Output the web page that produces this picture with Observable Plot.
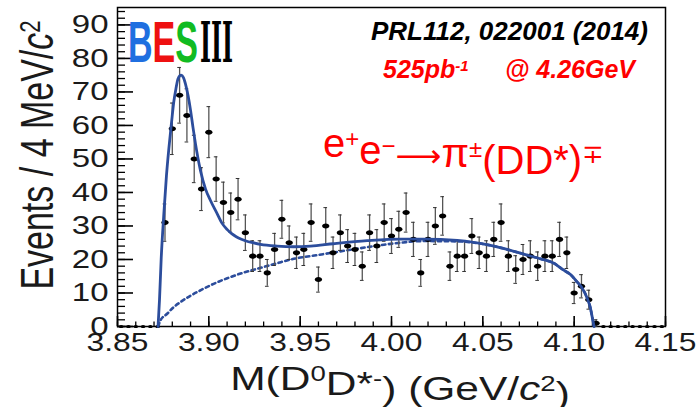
<!DOCTYPE html>
<html><head><meta charset="utf-8">
<script src="https://cdn.jsdelivr.net/npm/d3@7"></script>
<script src="https://cdn.jsdelivr.net/npm/@observablehq/plot@0.6"></script>
<style>
html,body{margin:0;padding:0;background:#fff;}
#chart{position:relative;width:699px;height:407px;overflow:hidden;}
</style></head><body><div id="chart"></div>
<script>
// ---- data ----
const binLow = 3.85;          // GeV, lower edge of the first bin
const binWidth = 0.004;       // 4 MeV bins
const counts = [0,0,0,0,0,0,
  31,59,69,63,50,41,58,44,37,34,
  38,28,21,21,16,23,32,25,22,23,
  31,14,30,22,28,24,23,18,28,24,
  31,27,29,34,26,16,26,30,33,18,
  21,21,27,22,21,26,31,21,17,20,
  21,18,21,21,26,22,10,12,8,1,
  0,0,0,0,0,0,0,0,0];

// total fit curve (solid)
const fitMass  = [3.8722,3.8730,3.8739,3.8753,3.8768,3.8781,3.8796,3.8808,3.8820,3.8832,3.8848,3.8861,3.8872,3.8886,3.8900,3.8913,3.8927,3.8954,3.8982,3.9009,3.9046,3.9070,3.9101,3.9125,3.9150,3.9175,3.9200,3.9240,3.9283,3.9374,3.9465,3.9557,3.9682,3.9867,4.0049,4.0177,4.0360,4.0542,4.0633,4.0724,4.0816,4.0889,4.0943,4.0980,4.1013,4.1040,4.1071,4.1089,4.1100,4.1109];
const fitTotal = [0,8,20,33,45,53,61,67,71,74,75,74.3,72.4,69,64.5,59.5,54.5,46.6,41,37.6,33.6,31.0,28.9,27.7,26.8,26.1,25.6,25.0,24.5,24.0,23.8,24.0,24.7,25.6,26.1,26.1,25.7,24.2,23.0,21.6,20.2,18.9,16.8,15.5,13.5,11.8,8.5,5.5,2.5,0];

// background curve (dotted)
const bkgMass  = [3.8722,3.8735,3.8772,3.8808,3.8845,3.8900,3.8954,3.9009,3.9101,3.9191,3.9283,3.9374,3.9465,3.9593,3.9776,3.9958,4.0049,4.0177,4.0360,4.0542,4.0633,4.0724,4.0816,4.0889,4.0943,4.0980,4.1013,4.1040,4.1071,4.1089,4.1100,4.1109];
const bkgValue = [0,1.8,3.8,5.8,7.3,9.2,10.8,12.3,14.4,16.1,17.5,18.9,20.2,21.3,22.9,24.4,25.0,25.5,25.4,24.2,23.0,21.6,20.2,18.9,16.8,15.5,13.5,11.8,8.5,5.5,2.5,0];

// axes
const xMajorTicks = [3.85,3.90,3.95,4.00,4.05,4.10,4.15];
const xTickLabels = ["3.85","3.90","3.95","4.00","4.05","4.10","4.15"];
const yMajorTicks = [0,10,20,30,40,50,60,70,80,90];
const yTickLabels = ["0","10","20","30","40","50","60","70","80","90"];
const xMinorTicks = d3.range(0, 31).map(i => +(3.85 + i * 0.01).toFixed(2));
const yMinorTicks = d3.range(0, 95, 2);

// ---- build tables ----
const points = counts.map((n, i) => {
  const c = binLow + (i + 0.5) * binWidth;
  const e = Math.sqrt(n);
  return {c, n, lo: n - e, hi: n + e, cl: c - 0.001, cr: c + 0.001};
});
const filled = points.filter(d => d.n > 0);
const empty = points.filter(d => d.n === 0);
const total = fitMass.map((m, i) => ({m, v: fitTotal[i]}));
const bkg = bkgMass.map((m, i) => ({m, v: bkgValue[i]}));

const ellipse = {draw(ctx, size) {
  const r = Math.sqrt(size / Math.PI), rx = r * 1.3, ry = r * 0.9, k = 0.5523;
  ctx.moveTo(rx, 0);
  ctx.bezierCurveTo(rx, ry * k, rx * k, ry, 0, ry);
  ctx.bezierCurveTo(-rx * k, ry, -rx, ry * k, -rx, 0);
  ctx.bezierCurveTo(-rx, -ry * k, -rx * k, -ry, 0, -ry);
  ctx.bezierCurveTo(rx * k, -ry, rx, -ry * k, rx, 0);
  ctx.closePath();
}};

const blue = "#2c4d9c";
const font = "'Liberation Sans', Arial, Helvetica, sans-serif";

const plot = Plot.plot({
  width: 699, height: 407,
  marginLeft: 117, marginRight: 34, marginTop: 7, marginBottom: 81,
  style: {fontFamily: font, background: "#fff", color: "#000", overflow: "visible"},
  x: {domain: [3.85, 4.15]},
  y: {domain: [0, 95.2]},
  marks: [
    Plot.axisX({ticks: xMinorTicks, tickSize: -4.5, text: null, label: null, strokeWidth: 1.3}),
    Plot.axisX({ticks: xMajorTicks, tickSize: -10, text: null, label: null, strokeWidth: 1.6}),
    Plot.axisX({ticks: xMajorTicks, tickSize: 0, tickPadding: 7, label: null, fontSize: 25,
      tickFormat: d => xTickLabels[xMajorTicks.indexOf(d)], fill: "#1a1a1a"}),
    Plot.axisY({ticks: yMinorTicks, tickSize: -8, text: null, label: null, strokeWidth: 1.3}),
    Plot.axisY({ticks: yMajorTicks, tickSize: -16, text: null, label: null, strokeWidth: 1.6}),
    Plot.axisY({ticks: yMajorTicks, tickSize: 0, tickPadding: 9, label: null, fontSize: 26,
      tickFormat: d => yTickLabels[yMajorTicks.indexOf(d)], fill: "#1a1a1a"}),
    Plot.frame({stroke: "#000", strokeWidth: 1.5}),
    Plot.line(bkg, {x: "m", y: "v", stroke: blue, strokeWidth: 2.6, strokeDasharray: "3.5 3.5", curve: "monotone-x"}),
    Plot.ruleX(filled, {x: "c", y1: "lo", y2: "hi", stroke: "#555", strokeWidth: 1.3}),
    Plot.ruleY(filled, {y: "hi", x1: "cl", x2: "cr", stroke: "#333", strokeWidth: 1}),
    Plot.ruleY(filled, {y: "lo", x1: "cl", x2: "cr", stroke: "#333", strokeWidth: 1}),
    Plot.dot(empty, {x: "c", y: "n", r: 1.8, symbol: ellipse, fill: "#000", stroke: null}),
    Plot.dot(filled, {x: "c", y: "n", r: 2.8, symbol: ellipse, fill: "#000", stroke: null}),
    Plot.line(total, {x: "m", y: "v", stroke: blue, strokeWidth: 2.8, curve: "monotone-x"})
  ]
});

// horizontally stretched axis text, as in the original figure
const sx = 1.27;
d3.select(plot).selectAll('g[aria-label="x-axis tick label"] text, g[aria-label="y-axis tick label"] text')
  .attr("transform", function() { return (this.getAttribute("transform") || "") + ` scale(${sx},1)`; });

const svg = d3.select(plot);

// axis titles
const yt = svg.append("text")
  .attr("transform", `translate(53,155) scale(1.35,1) rotate(-90)`)
  .attr("text-anchor", "middle").attr("font-size", 34).attr("font-family", font).attr("fill", "#1a1a1a");
yt.append("tspan").text("Events / 4 MeV/");
yt.append("tspan").attr("font-style", "italic").text("c");
yt.append("tspan").attr("dy", "-0.42em").attr("font-size", "0.65em").text("2");

const xt = svg.append("text")
  .attr("transform", `translate(400,390) scale(1.25,1)`)
  .attr("text-anchor", "middle").attr("font-size", 34).attr("font-family", font).attr("fill", "#1a1a1a");
xt.append("tspan").text("M(D");
xt.append("tspan").attr("dy", "-0.42em").attr("font-size", "0.65em").text("0");
xt.append("tspan").attr("dy", "0.42em").text("D*");
xt.append("tspan").attr("dy", "-0.42em").attr("font-size", "0.65em").text("-");
xt.append("tspan").attr("dy", "0.42em").text(") (GeV/");
xt.append("tspan").attr("font-style", "italic").text("c");
xt.append("tspan").attr("dy", "-0.42em").attr("font-size", "0.65em").text("2");
xt.append("tspan").attr("dy", "0.42em").text(")");

// annotations
svg.append("text").attr("x", 648).attr("y", 40).attr("text-anchor", "end")
  .attr("font-size", 26).attr("font-weight", "bold").attr("font-style", "italic")
  .attr("font-family", font).attr("fill", "#000").text("PRL112, 022001 (2014)");

const lum = svg.append("text").attr("x", 383).attr("y", 78).attr("text-anchor", "start")
  .attr("font-size", 25).attr("font-weight", "bold").attr("font-style", "italic")
  .attr("font-family", font).attr("fill", "#ff0000");
lum.append("tspan").text("525pb");
lum.append("tspan").attr("dy", "-0.45em").attr("font-size", "0.6em").text("-1");
svg.append("text").attr("x", 635).attr("y", 78).attr("text-anchor", "end")
  .attr("font-size", 25).attr("font-weight", "bold").attr("font-style", "italic")
  .attr("font-family", font).attr("fill", "#ff0000").text("@ 4.26GeV");

const proc = svg.append("text").attr("x", 323).attr("y", 157).attr("text-anchor", "start")
  .attr("font-size", 40).attr("font-family", font).attr("fill", "#ff0000");
proc.append("tspan").text("e");
proc.append("tspan").attr("dy", "-0.42em").attr("font-size", "0.6em").text("+");
proc.append("tspan").attr("dy", "0.42em").text("e");
proc.append("tspan").attr("dy", "-0.42em").attr("font-size", "0.6em").text("\u2212");
proc.append("tspan").attr("dy", "0.42em").attr("font-family", "'DejaVu Sans', sans-serif").attr("font-size", 32).text("\u27f6");
proc.append("tspan").text("\u03c0");
proc.append("tspan").attr("dy", "-0.42em").attr("font-size", "0.6em").text("\u00b1");
proc.append("tspan").attr("dy", "0.42em").text("(DD*)");
proc.append("tspan").attr("dy", "-0.42em").attr("font-size", "0.65em").text("\u2213");

// BESIII logo
const logo = svg.append("text").attr("x", 128).attr("y", 62).attr("text-anchor", "start")
  .attr("font-size", 58).attr("font-weight", "bold").attr("font-family", font)
  .attr("textLength", 70).attr("lengthAdjust", "spacingAndGlyphs");
logo.append("tspan").attr("fill", "#1f6fe0").text("B");
logo.append("tspan").attr("fill", "#ee1111").text("E");
logo.append("tspan").attr("fill", "#11bb22").text("S");
svg.append("text").attr("x", 200).attr("y", 62).attr("text-anchor", "start")
  .attr("font-size", 56).attr("font-weight", "bold").attr("font-family", "'DejaVu Serif', serif")
  .attr("textLength", 33).attr("lengthAdjust", "spacingAndGlyphs").attr("fill", "#000").text("III");

document.getElementById("chart").appendChild(plot);
</script>
</body></html>
